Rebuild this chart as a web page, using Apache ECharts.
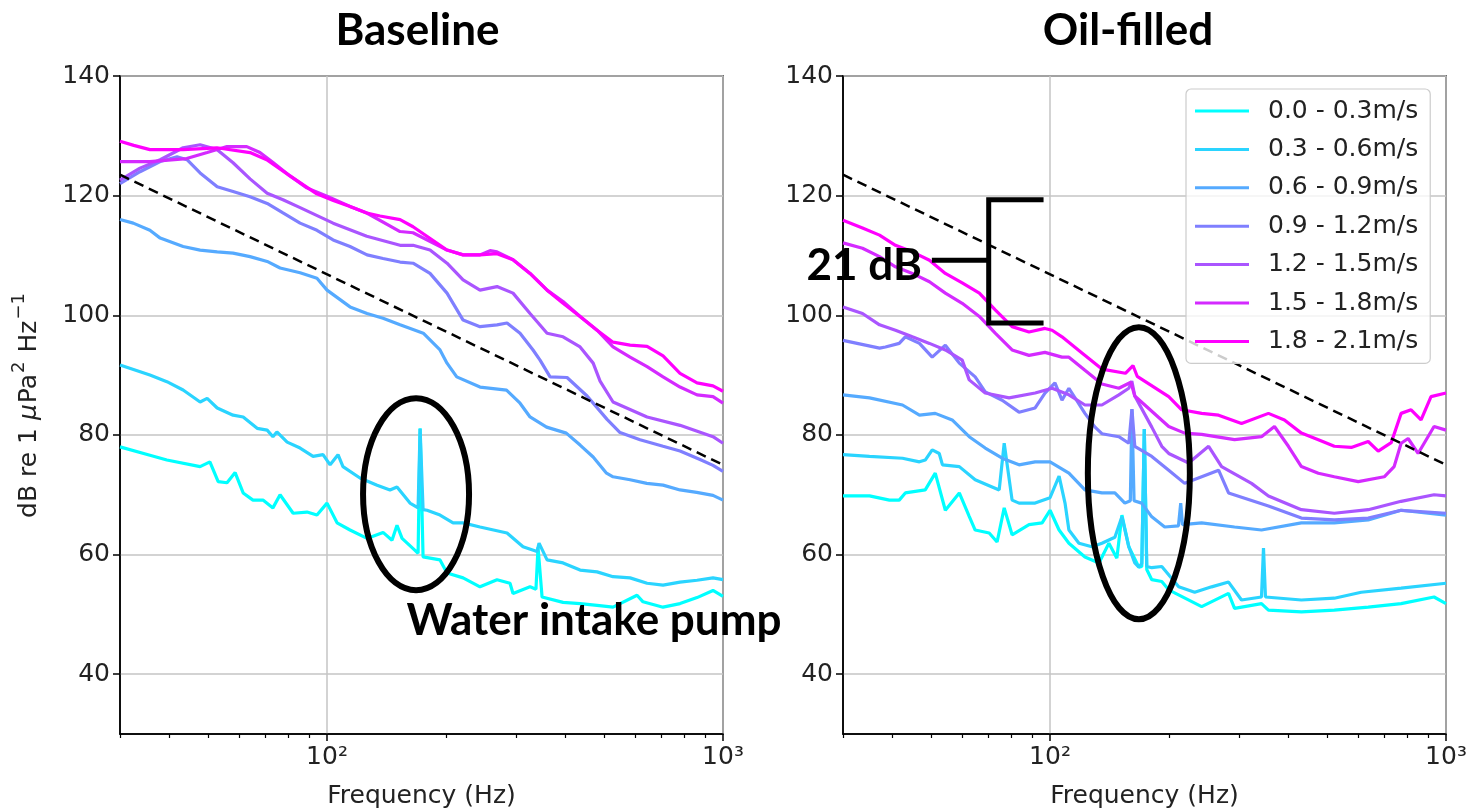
<!DOCTYPE html>
<html>
<head>
<meta charset="utf-8">
<script src="https://cdn.jsdelivr.net/npm/echarts@6/dist/echarts.min.js"></script>
<style>
html,body{margin:0;padding:0;background:#fff;}
#chart{width:1470px;height:810px;}
</style>
</head>
<body>
<div id="chart"></div>
<script>
// ---------- labels ----------
const panelTitles = ['Baseline', 'Oil-filled'];
const speedBins = ['0.0 - 0.3m/s', '0.3 - 0.6m/s', '0.6 - 0.9m/s', '0.9 - 1.2m/s', '1.2 - 1.5m/s', '1.5 - 1.8m/s', '1.8 - 2.1m/s'];
const binColors = ['#00ffff', '#2ad4ff', '#55aaff', '#7f7fff', '#aa55ff', '#d42aff', '#ff00ff'];
const yTicks = [40, 60, 80, 100, 120, 140];
const xMajorTicks = [100, 1000];
const xMinorTicks = [30, 40, 50, 60, 70, 80, 90, 200, 300, 400, 500, 600, 700, 800, 900];
const xLabel = 'Frequency (Hz)';
const yLabelRich = '{a|dB re 1 }{i|\u03bc}{a|Pa}{s|2}{a| Hz}{s|\u22121}';

// reference (dashed) line: [Hz, dB]
const refLine = [[30, 123.5], [1000, 75]];

// ---------- Baseline panel: [Hz, dB] ----------
const base_00_03 = [[30,78.0],[35.7,76.6],[39.4,75.8],[47.8,74.7],[50.6,75.5],[53.1,72.2],[55.9,72.0],[58.6,73.7],[61.4,70.3],[65.0,69.1],[68.9,69.1],[73.0,67.8],[76.1,70.0],[82.1,66.9],[89.0,67.1],[94.3,66.6],[100,68.6],[106,65.3],[114.3,64.1],[126.2,62.7],[138.5,63.7],[145.9,62.4],[150.2,64.9],[154.7,62.7],[166.8,60.7],[169.8,60.2],[171.8,81.1],[174.8,59.6],[192.9,59.1],[200.9,56.9],[220.6,56.1],[243.4,54.6],[268.7,55.8],[289.8,55.2],[294.9,53.5],[325.6,54.6],[337,54.2],[341.1,61.2],[349.2,52.9],[394.5,52.0],[435.6,51.8],[480.8,51.5],[527.6,51.2],[606.6,53.2],[628.1,52.1],[705.7,51.2],[778.9,51.8],[859.9,52.8],[943.5,54.0],[1000,53.0]];
const base_03_06 = [[30,91.7],[35.7,90.0],[39.4,88.9],[43.3,87.5],[47.8,85.5],[49.8,86.1],[52.8,84.5],[57.9,83.3],[61.4,83.0],[66.6,81.1],[70.6,80.8],[73.0,79.7],[74.7,80.5],[79.3,78.8],[85.5,77.8],[92.2,76.4],[97.7,76.7],[101.8,75.0],[106.6,76.7],[109.7,74.7],[121.1,72.8],[133.8,71.6],[144.2,70.8],[150.2,71.3],[162.0,68.6],[169.8,67.8],[171.8,81.0],[174.8,67.5],[178.9,67.4],[192.9,66.6],[208.1,65.3],[220.6,65.3],[243.4,64.6],[284.8,63.6],[312.6,61.3],[339.1,60.5],[343.1,61.9],[359.5,59.1],[394.5,58.6],[435.6,57.4],[480.8,57.1],[527.6,56.3],[582.5,56.1],[643,55.2],[705.7,54.9],[778.9,55.4],[859.9,55.7],[943.5,56.1],[1000,55.8]];
const base_06_09 = [[30,116.0],[32.4,115.4],[35.7,114.2],[37.9,112.9],[43.3,111.5],[47.8,110.9],[52.8,110.6],[57.9,110.4],[63.9,109.8],[70.6,109.0],[76.1,107.9],[85.5,107.1],[94.3,106.2],[100,104.2],[114.3,101.4],[126.2,100.3],[138.5,99.5],[152.9,98.4],[175,97.0],[192.9,94.2],[200.9,92.0],[212.6,89.7],[243.4,88.0],[284,87.5],[307.2,85.3],[325.6,83.0],[358.5,81.3],[402,80.3],[435.6,78.3],[470,76.3],[508,73.6],[527.6,73.0],[582.5,72.5],[642,71.9],[705.7,71.6],[778.9,70.8],[858,70.4],[943.5,69.9],[1000,69.1]];
const base_09_12 = [[30,122.0],[33.7,124.0],[37.9,125.7],[41.8,126.5],[44.3,126.0],[47.8,123.8],[52.8,121.5],[57.9,120.7],[63.9,119.8],[70.6,118.7],[77.4,117.1],[85.5,115.4],[94.3,114.2],[103.6,112.6],[114.3,111.5],[126.2,110.1],[138.5,109.5],[152.9,108.9],[164.9,108.7],[182.0,107.0],[200.9,103.7],[220.6,99.2],[243.4,98.1],[268.7,98.4],[284.8,98.7],[307.2,97.0],[331.3,94.2],[345.1,92.5],[365.8,89.7],[403.8,89.6],[453.7,86.5],[509.6,82.6],[549.5,80.4],[617.3,79.2],[705.7,78.1],[778.9,77.3],[874.9,75.9],[943.5,74.9],[1000,73.9]];
const base_12_15 = [[30,122.6],[33.7,124.6],[37.9,126.0],[43.3,128.0],[47.8,128.5],[52.7,127.7],[57.9,125.5],[63.9,122.8],[70.6,120.4],[77.4,119.3],[85.5,118.0],[103.6,115.4],[126,113.2],[152.9,111.7],[164.9,111.7],[182.0,110.9],[200.9,108.7],[220.6,105.9],[243.4,104.2],[268.7,104.8],[294.9,103.7],[325.6,100.3],[359.5,97.0],[394.5,96.4],[435.6,94.7],[470,92.0],[489.3,89.0],[527.6,85.5],[643,83.0],[778.9,81.6],[943.5,79.7],[1000,78.6]];
const base_15_18 = [[30,125.7],[35.7,125.7],[44.2,126.2],[49.8,127.2],[55.9,128.2],[62.7,128.2],[67.7,127.2],[73.2,125.5],[80.6,123.3],[88.9,121.3],[100,119.9],[114.3,118.2],[126,117.1],[152.9,114.0],[164.9,113.8],[200.9,110.9],[220.6,110.1],[243.4,110.1],[258,110.8],[268.7,110.6],[294.9,109.3],[325.6,107.0],[359.5,104.2],[394.5,102.3],[435.6,99.8],[480.8,97.5],[527.6,94.7],[582.5,93.0],[643,91.4],[705.7,89.7],[778.9,88.0],[859.9,86.7],[943.5,86.4],[1000,85.3]];
const base_18_21 = [[30,129.1],[32.5,128.4],[35.7,127.7],[43.3,127.7],[52.7,128.0],[63.9,127.2],[70.4,126.0],[80.6,123.3],[94.2,120.3],[103.7,119.2],[114.3,118.2],[126,117.1],[136.1,116.6],[152.9,116.0],[164.9,114.8],[200.9,110.9],[220.6,110.1],[243.4,110.1],[268.7,110.3],[294.9,109.3],[325.6,107.0],[359.5,104.2],[394.5,102.0],[435.6,99.8],[480.8,97.5],[527.6,95.5],[582.5,95.0],[643,94.8],[705.7,93.2],[778.9,90.3],[859.9,88.7],[943.5,88.2],[1000,87.3]];

// ---------- Oil-filled panel: [Hz, dB] ----------
const oil_00_03 = [[30,69.8],[35.0,69.8],[39.3,69.1],[41.6,69.1],[43.1,70.3],[48.4,70.8],[51.3,73.6],[54.4,67.4],[59.0,70.3],[62.5,66.4],[64.7,64.1],[70.2,63.6],[73.5,62.1],[76.6,67.8],[80.2,63.3],[88.5,65.0],[95.5,65.3],[100,67.4],[105.4,64.1],[111.6,61.9],[122.5,59.6],[132.9,58.6],[140.8,61.9],[147.5,59.4],[151.9,66.6],[158.1,61.3],[167.6,57.9],[170.5,58.0],[173,81.0],[175.5,57.5],[180.7,55.8],[191.5,55.5],[199.4,54.1],[241.5,51.3],[282.4,53.5],[292.4,51.0],[342,51.8],[356.1,50.7],[431.3,50.4],[522.3,50.7],[636.2,51.2],[770.3,51.8],[932.8,52.9],[1000,51.8]];
const oil_03_06 = [[30,76.7],[35.0,76.4],[42.4,76.1],[46.8,75.5],[48.4,75.8],[50.4,77.5],[52.5,76.9],[53.5,75.0],[59.0,74.7],[64.7,72.5],[71.4,71.3],[74.4,70.8],[76.6,78.6],[80.2,69.1],[83.5,68.6],[91.7,68.6],[100,69.5],[105.4,73.1],[109.1,68.6],[111.6,64.1],[118.3,61.9],[127.6,61.3],[135.2,61.9],[145.8,62.9],[151.9,66.3],[158.1,61.3],[163.7,58.6],[167.6,57.9],[170.5,58.5],[173,81.0],[175.5,58.0],[180.7,57.8],[191.5,58.0],[211.3,54.6],[231.9,53.7],[255.9,54.6],[282.4,55.4],[304.5,52.4],[342,52.9],[346,61.1],[350,52.9],[431.3,52.4],[522.3,52.7],[610.9,53.7],[770.3,54.4],[1000,55.2]];
const oil_06_09 = [[30,86.7],[35.0,86.2],[42.4,85.0],[46.8,83.3],[51.3,83.6],[56.6,82.5],[62.5,79.7],[68.6,77.8],[75.7,76.1],[83.5,75.0],[91.7,75.5],[100,75.5],[111.6,73.6],[122.5,70.8],[135.2,70.3],[145.8,70.3],[154.5,68.6],[159.5,69.0],[161,84.3],[163,69.0],[170.4,68.6],[180.7,66.3],[194.8,64.6],[211,64.8],[213.8,68.6],[216,65.0],[241.5,65.3],[292.4,64.6],[342,64.1],[431.3,65.3],[522.3,65.3],[636.2,65.8],[770.3,67.4],[1000,66.6]];
const oil_09_12 = [[30,95.8],[37.1,94.5],[38.4,94.7],[41.6,95.3],[43.1,96.4],[46.8,95.3],[50.4,93.0],[54.4,95.0],[59.0,92.0],[64.7,89.7],[68.6,87.2],[75.7,85.8],[83.5,83.8],[91.7,84.5],[97.1,87.0],[102.9,88.7],[107.2,85.8],[111.6,87.8],[122.5,83.6],[129.9,81.3],[135.2,80.2],[149.2,79.7],[158.1,78.6],[161,84.3],[163.7,78.1],[180.7,76.4],[199.4,74.1],[218.8,71.9],[241.5,73.0],[266.5,74.1],[282.4,70.3],[356.1,68.1],[399.9,66.9],[431.3,66.1],[522.3,65.8],[636.2,66.1],[770.3,67.4],[1000,66.9]];
const oil_12_15 = [[30,101.4],[33.6,100.3],[37.1,98.4],[40.7,97.5],[44.9,96.4],[49.6,95.3],[54.4,94.2],[60.0,92.5],[62.5,89.2],[68.6,87.0],[78.8,86.2],[91.7,87.0],[101.2,87.8],[111.6,86.7],[122.5,85.0],[135.2,85.0],[149.2,86.7],[158.1,87.8],[160.9,89.0],[163.7,86.5],[180.7,81.3],[191.5,78.1],[199.4,76.9],[223.9,75.3],[251.5,78.1],[271.2,74.7],[322.7,71.9],[356.1,69.8],[431.3,67.5],[522.3,66.9],[636.2,67.5],[770.3,68.9],[932.8,70.0],[1000,69.8]];
const oil_15_18 = [[30,112.1],[33.6,111.2],[37.1,109.8],[40.7,108.1],[44.9,107.0],[49.6,105.6],[54.4,103.7],[60.0,102.0],[66.3,99.8],[72.7,97.0],[80.2,94.2],[88.5,93.3],[97.1,93.8],[107.2,93.0],[111.6,93.0],[122.5,90.8],[135.2,88.5],[149.2,87.8],[160,88.8],[163.7,86.5],[199.4,81.4],[218.8,80.3],[241.5,80.1],[292.4,79.2],[342,79.7],[368.8,81.4],[399.9,78.1],[431.3,74.7],[476,73.6],[522.3,73.0],[600.3,72.2],[698.2,73.0],[739.6,74.7],[770.3,78.6],[802.3,79.4],[850.2,76.9],[932.8,81.4],[1000,80.8]];
const oil_18_21 = [[30,115.9],[33.6,114.6],[37.1,113.4],[40.7,111.7],[44.9,110.6],[49.6,109.2],[54.4,107.0],[60.0,105.4],[66.3,103.7],[72.7,100.9],[80.2,98.1],[88.5,97.2],[97.1,97.8],[101.2,97.5],[107.2,96.4],[120.4,93.7],[135.2,91.0],[155,90.3],[162,91.6],[166,89.8],[199.4,86.4],[215,84.2],[241.5,83.6],[266.5,83.3],[304.5,81.9],[356.1,83.6],[390.8,82.5],[431.3,80.3],[476,79.2],[522.3,78.1],[576.5,77.9],[636.2,78.9],[674.3,77.3],[727.2,78.7],[770.3,83.6],[816.3,84.2],[865,82.5],[916.6,86.4],[1000,87.0]];

const panelData = [
  [base_00_03, base_03_06, base_06_09, base_09_12, base_12_15, base_15_18, base_18_21],
  [oil_00_03, oil_03_06, oil_06_09, oil_09_12, oil_12_15, oil_15_18, oil_18_21]
];

// annotation anchors (data coords of each panel)
const pumpEllipseCentres = [[167.8, 70.1], [167.6, 73.6]];
const bracket = {f: 70, fArm: 96.3, fTick: 50.3, top: 119.3, bottom: 98.7, mid: 109.2};

// ---------- chart ----------
const FONT = 'DejaVu Sans';
const chart = echarts.init(document.getElementById('chart'), null, {renderer: 'canvas'});

const grids = [
  {left: 120, top: 76, width: 603, height: 658},
  {left: 843, top: 76, width: 603, height: 658}
];

const xAxes = [];
const yAxes = [];
[0, 1].forEach(g => {
  xAxes.push({
    type: 'log', logBase: 10, min: 30, max: 1000, gridIndex: g, position: 'bottom',
    axisLine: {show: true, onZero: false, lineStyle: {color: '#000', width: 1.5}},
    axisTick: {show: true, customValues: xMajorTicks, length: 7, lineStyle: {color: '#000', width: 1.5}},
    minorTick: {show: false},
    axisLabel: {
      customValues: xMajorTicks, fontFamily: FONT, fontSize: 25, color: '#222', margin: 11,
      formatter: v => (Math.abs(v - 100) < 1e-6 ? '10\u00b2' : (Math.abs(v - 1000) < 1e-6 ? '10\u00b3' : ''))
    },
    splitLine: {show: true, lineStyle: {color: '#c4c4c4', width: 1.5}},
    name: xLabel, nameLocation: 'middle', nameGap: 50,
    nameTextStyle: {fontFamily: FONT, fontSize: 25, color: '#222'}
  });
  yAxes.push({
    type: 'value', min: 30, max: 140, gridIndex: g,
    axisLine: {show: true, onZero: false, lineStyle: {color: '#000', width: 1.5}},
    axisTick: {show: true, customValues: yTicks, length: 7, lineStyle: {color: '#000', width: 1.5}},
    axisLabel: {customValues: yTicks, fontFamily: FONT, fontSize: 25, color: '#222', margin: 10},
    splitLine: {show: true, lineStyle: {color: '#c4c4c4', width: 1.5}},
    name: g === 0 ? yLabelRich : '', nameLocation: 'middle', nameGap: 78, nameRotate: 90,
    nameTextStyle: {
      fontFamily: FONT, fontSize: 25, color: '#222',
      rich: {
        a: {fontFamily: FONT, fontSize: 25, color: '#222', lineHeight: 32, verticalAlign: 'bottom'},
        i: {fontFamily: FONT, fontSize: 25, fontStyle: 'italic', color: '#222', lineHeight: 32, verticalAlign: 'bottom', padding: [0, 1, 0, 0]},
        s: {fontFamily: FONT, fontSize: 18, color: '#222', lineHeight: 18, verticalAlign: 'top', padding: [0, 1, 0, 1]}
      }
    }
  });
});
[0, 1].forEach(g => {
  xAxes.push({
    type: 'log', logBase: 10, min: 30, max: 1000, gridIndex: g, position: 'bottom',
    axisLine: {show: false, onZero: false},
    axisTick: {show: true, customValues: xMinorTicks, length: 4, lineStyle: {color: '#000', width: 1.2}},
    minorTick: {show: false},
    axisLabel: {show: false},
    splitLine: {show: false}
  });
});

const series = [];
[0, 1].forEach(g => {
  panelData[g].forEach((arr, i) => {
    series.push({
      type: 'line', name: speedBins[i], xAxisIndex: g, yAxisIndex: g,
      data: arr, showSymbol: false, symbol: 'none', smooth: false,
      lineStyle: {color: binColors[i], width: 3.2}, itemStyle: {color: binColors[i]},
      emphasis: {disabled: true}, z: 2 + i * 0.01
    });
  });
  series.push({
    type: 'line', name: 'reference', xAxisIndex: g, yAxisIndex: g,
    data: refLine, showSymbol: false, symbol: 'none',
    lineStyle: {color: '#000', width: 2.5, type: [10, 6]},
    emphasis: {disabled: true}, z: 3
  });
});

chart.setOption({
  animation: false,
  backgroundColor: '#fff',
  grid: grids.map(gr => Object.assign({show: true, borderColor: '#000', borderWidth: 1.5, backgroundColor: 'transparent', containLabel: false, outerBoundsMode: 'none'}, gr)),
  xAxis: xAxes,
  yAxis: yAxes,
  legend: {
    data: speedBins,
    orient: 'vertical', left: 1186, top: 89,
    icon: 'rect', itemWidth: 54, itemHeight: 3, itemGap: 8.4,
    padding: [7, 12, 7, 9],
    backgroundColor: 'rgba(255,255,255,0.8)', borderColor: '#cccccc', borderWidth: 1.2, borderRadius: 5,
    textStyle: {fontFamily: FONT, fontSize: 25, color: '#222', lineHeight: 30, padding: [0, 0, 0, 14]},
    selectedMode: false
  },
  series: series
});

// ---------- annotations ----------
function px(g, pt) { return chart.convertToPixel({gridIndex: g}, pt); }
const titleCentres = [417.5, 1128];
const graphics = [];
panelTitles.forEach((t, g) => {
  graphics.push({type: 'text', x: titleCentres[g], y: 31, z: 100,
    style: {text: t, font: 'bold 44px Lato', fill: '#000', align: 'center', verticalAlign: 'middle'}});
});
pumpEllipseCentres.forEach((c, g) => {
  const p = px(g, c);
  graphics.push({type: 'ellipse', z: 100,
    shape: {cx: p[0], cy: p[1], rx: g === 0 ? 53 : 51, ry: g === 0 ? 96 : 146},
    style: {fill: 'none', stroke: '#000', lineWidth: 6}});
});
{
  const t = px(1, [bracket.f, bracket.top]);
  const b = px(1, [bracket.f, bracket.bottom]);
  const ta = px(1, [bracket.fArm, bracket.top]);
  const m = px(1, [bracket.f, bracket.mid]);
  const mt = px(1, [bracket.fTick, bracket.mid]);
  graphics.push({type: 'polyline', z: 100, shape: {points: [[ta[0], t[1]], [t[0], t[1]], [b[0], b[1]], [ta[0], b[1]]]},
    style: {fill: 'none', stroke: '#000', lineWidth: 5}});
  graphics.push({type: 'line', z: 100, shape: {x1: mt[0], y1: m[1], x2: m[0], y2: m[1]},
    style: {stroke: '#000', lineWidth: 5}});
  graphics.push({type: 'text', x: mt[0] - 10, y: m[1] + 6, z: 100,
    style: {text: '21 dB', font: 'bold 44px Lato', fill: '#000', align: 'right', verticalAlign: 'middle'}});
}
graphics.push({type: 'text', x: 594, y: 621, z: 100,
  style: {text: 'Water intake pump', font: 'bold 44px Lato', fill: '#000', align: 'center', verticalAlign: 'middle'}});

chart.setOption({graphic: graphics});
</script>
</body>
</html>
